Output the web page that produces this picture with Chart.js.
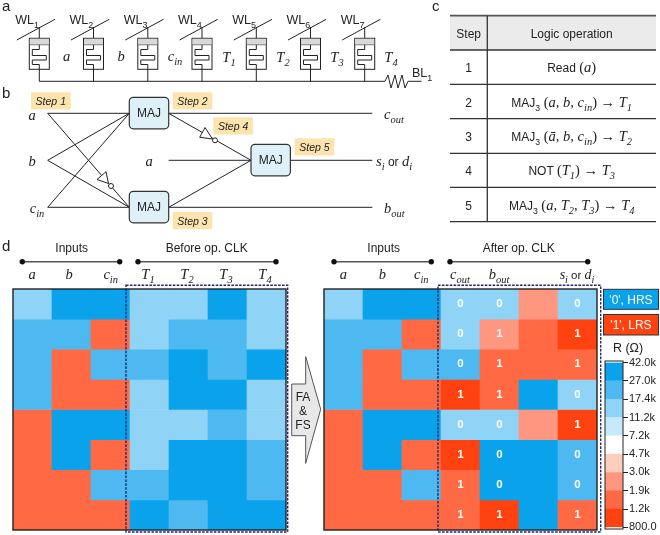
<!DOCTYPE html>
<html>
<head>
<meta charset="utf-8">
<title>Full adder / subtractor memristor logic</title>
<script src="https://cdn.jsdelivr.net/npm/chart.js@4"></script>
<style>
  html, body { margin: 0; padding: 0; background: #fff; }
  #page { position: relative; width: 660px; height: 535px; overflow: hidden; }
  canvas { position: absolute; }
  #heatBefore { left: 13px; top: 289px; }
  #heatAfter { left: 324px; top: 289px; }
  #colorbar { left: 605px; top: 355px; }
  svg { position: absolute; left: 0; top: 0; }
</style>
</head>
<body>
<div id="page">
  <canvas id="heatBefore" width="273" height="241"></canvas>
  <canvas id="heatAfter" width="273" height="241"></canvas>
  <canvas id="colorbar" width="55" height="180"></canvas>
  <svg id="overlay" width="660" height="535" xmlns="http://www.w3.org/2000/svg"></svg>
</div>
<script>
// Resistance (ohm), top row first
const inA = [14000, 21000, 21000, 21000, 1500, 1500, 1500, 1500];
const inB = [33000, 21000, 1500, 1500, 33000, 33000, 1500, 1500];
const inC = [33000, 1500, 21000, 1500, 33000, 1500, 21000, 1500];

const beforeT1 = [14000, 14000, 21000, 14000, 14000, 14000, 21000, 33000];
const beforeT2 = [14000, 21000, 33000, 33000, 14000, 33000, 33000, 21000];
const beforeT3 = [33000, 21000, 21000, 33000, 21000, 33000, 33000, 33000];
const beforeT4 = [14000, 14000, 33000, 14000, 14000, 21000, 21000, 33000];

const afterCout = [14000, 14000, 21000, 1000, 14000, 1000, 1500, 1500];
const afterBout = [14000, 2400, 1500, 1500, 14000, 33000, 33000, 1000];
const afterT3 = [2400, 1500, 1500, 33000, 2400, 33000, 33000, 33000];
const afterSum = [14000, 1000, 1500, 14000, 1000, 21000, 21000, 1500];

const bitsCout = ['0', '0', '0', '1', '0', '1', '1', '1'];
const bitsBout = ['0', '1', '1', '1', '0', '0', '0', '1'];
const bitsSum = ['0', '1', '1', '0', '1', '0', '0', '1'];

// Colour scale, bottom to top
const scaleTicks = ['800.0', '1.2k', '1.9k', '3.0k', '4.7k', '7.2k', '11.2k', '17.4k', '27.0k', '42.0k'];
const scaleEdges = [800, 1200, 1900, 3000, 4700, 7200, 11200, 17400, 27000, 42000];
const scaleColors = ['#ff4210', '#ff6a45', '#ff9680', '#fbcfbc', '#ffffff', '#c6e9fb', '#8fd3f6', '#4db9f0', '#0aa2ea'];

const rowIndex = [0, 1, 2, 3, 4, 5, 6, 7];

function colorFor(value) {
    for (let i = 0; i < scaleColors.length; i++) {
        if (value < scaleEdges[i + 1]) return scaleColors[i];
    }
    return scaleColors[scaleColors.length - 1];
}

const cellText = {
    id: 'cellText',
    afterDatasetsDraw(chart, args, opts) {
        if (!opts.bits) return;
        const ctx = chart.ctx;
        ctx.save();
        ctx.fillStyle = '#fff';
        ctx.font = 'bold 11.5px "Liberation Sans"';
        ctx.textAlign = 'center';
        ctx.textBaseline = 'middle';
        opts.bits.forEach((col, c) => {
            if (!col) return;
            col.forEach((bit, r) => {
                const bar = chart.getDatasetMeta(r).data[c];
                ctx.fillText(bit, bar.x, (bar.y + bar.base) / 2);
            });
        });
        ctx.restore();
    }
};

function drawHeatmap(id, columns, bits) {
    new Chart(document.getElementById(id), {
        type: 'bar',
        data: {
            labels: columns.map((c, i) => i),
            datasets: rowIndex.map(r => ({
                data: columns.map(() => [r, r + 1]),
                backgroundColor: columns.map(c => colorFor(c[r])),
                borderWidth: 0,
                categoryPercentage: 1,
                barPercentage: 1,
                grouped: false
            }))
        },
        options: {
            responsive: false,
            animation: false,
            layout: { padding: 0 },
            plugins: { legend: { display: false }, tooltip: { enabled: false }, cellText: { bits } },
            scales: {
                x: { display: false },
                y: { display: false, reverse: true, min: 0, max: 8 }
            }
        },
        plugins: [cellText]
    });
}

drawHeatmap('heatBefore', [inA, inB, inC, beforeT1, beforeT2, beforeT3, beforeT4]);
drawHeatmap('heatAfter', [inA, inB, inC, afterCout, afterBout, afterT3, afterSum],
    [null, null, null, bitsCout, bitsBout, null, bitsSum]);

new Chart(document.getElementById('colorbar'), {
    type: 'bar',
    data: {
        labels: ['R'],
        datasets: scaleColors.map((color, i) => ({
            data: [[i, i + 1]],
            backgroundColor: color,
            borderWidth: 0,
            categoryPercentage: 1,
            barPercentage: 1,
            grouped: false
        }))
    },
    options: {
        responsive: false,
        animation: false,
        layout: { padding: { top: 6, bottom: 6, left: 0, right: 0 } },
        plugins: { legend: { display: false }, tooltip: { enabled: false } },
        scales: {
            x: { display: false },
            y: {
                position: 'right',
                min: 0,
                max: 9,
                afterFit: scale => { scale.width = 37; },
                grid: { drawOnChartArea: false, color: '#222', tickLength: 5, tickWidth: 1 },
                border: { display: false },
                ticks: {
                    stepSize: 1,
                    padding: 1,
                    color: '#222',
                    autoSkip: false,
                    font: { family: '"Liberation Sans"', size: 11 },
                    callback: v => scaleTicks[v]
                }
            }
        }
    }
});

// Schematics and labels around the charts
const SANS = '"Liberation Sans"';
const SERIF = '"Liberation Serif"';
let svg = '';

function line(x1, y1, x2, y2, color = '#222', w = 1) {
    svg += `<line x1="${x1}" y1="${y1}" x2="${x2}" y2="${y2}" stroke="${color}" stroke-width="${w}"/>`;
}

function rect(x, y, w, h, fill, stroke = 'none', sw = 1, rx = 0, extra = '') {
    svg += `<rect x="${x}" y="${y}" width="${w}" height="${h}" fill="${fill}" stroke="${stroke}" stroke-width="${sw}" rx="${rx}" ${extra}/>`;
}

// parts: [text, kind]; s sans, r upright serif, m italic serif, ms and ss are subscripts
function label(x, y, parts, size = 12, anchor = 'middle', fill = '#222', sansSize = size) {
    if (typeof parts === 'string') parts = [[parts, 's']];
    let spans = '';
    let shift = 0;
    parts.forEach(([text, kind]) => {
        const isSub = kind === 'ms' || kind === 'ss';
        const drop = isSub ? size * 0.28 : 0;
        const family = kind[0] === 's' ? SANS : SERIF;
        const italic = kind[0] === 'm' ? 'font-style="italic"' : '';
        const base = kind[0] === 's' ? sansSize : size;
        const fs = isSub ? base * 0.72 : base;
        spans += `<tspan dy="${drop - shift}" font-family='${family}' font-size="${fs}" ${italic} xml:space="preserve">${text}</tspan>`;
        shift = drop;
    });
    svg += `<text x="${x}" y="${y}" text-anchor="${anchor}" fill="${fill}" xml:space="preserve">${spans}</text>`;
}

const mathSize = 14.5;
const cIn = [['c', 'm'], ['in', 'ms']];

// panel letters
label(2, 11, 'a', 15, 'start');
label(2, 98, 'b', 15, 'start');
label(2, 250.7, 'd', 15, 'start');
label(432, 10.5, 'c', 15, 'start');

// panel a
const cellX = [39.3, 93.5, 147.8, 202, 256.3, 310.5, 364.7];
const cellNames = ['1', '2', '3', '4', '5', '6', '7'];
cellX.forEach((cx, i) => {
    line(cx, 27, cx, 38.3);
    line(cx - 22.5, 40, cx + 15.7, 19.3);
    rect(cx - 10, 38.3, 20, 31, '#fff', '#222', 1);
    rect(cx - 9.5, 38.8, 19, 6, '#d9d9d9');
    line(cx - 10, 44.8, cx + 10, 44.8, '#555', 0.7);
    svg += `<path d="M${cx} 44.8V49.5H${cx - 7}V55.5H${cx + 7}V60H${cx - 7}V64.5H${cx}V69.3" fill="none" stroke="#222" stroke-width="1"/>`;
    line(cx, 69.3, cx, 81.3);
    label(cx - 24, 24, [['WL', 's'], [cellNames[i], 'ss']], 12.5, 'start');
});
line(39.3, 81.3, 385, 81.3);
svg += '<polyline points="385,81.3 388,75 391,88 395,75 398,88 402,75 405,88 408,81.3 421.5,81.3" fill="none" stroke="#222" stroke-width="1"/>';
label(412, 77, [['BL', 's'], ['1', 'ss']], 12.5, 'start');
label(66.7, 61, [['a', 'm']], mathSize);
label(121, 61, [['b', 'm']], mathSize);
label(175, 61, cIn, mathSize);
label(229, 62, [['T', 'm'], ['1', 'ms']], mathSize);
label(283, 62, [['T', 'm'], ['2', 'ms']], mathSize);
label(337, 62, [['T', 'm'], ['3', 'ms']], mathSize);
label(391, 62, [['T', 'm'], ['4', 'ms']], mathSize);

// panel b wires
line(47.7, 113.3, 129.3, 113.3);
line(47.7, 113.3, 129.3, 207.3);
line(47.7, 160.3, 129.3, 113.3);
line(47.7, 160.3, 129.3, 207.3);
line(47.7, 207.3, 129.3, 113.3);
line(47.7, 207.3, 129.3, 207.3);
line(168.7, 113.3, 372.3, 113.3);
line(168.7, 113.3, 251, 160.3);
line(168.7, 160.3, 251, 160.3);
line(290.3, 160.3, 372.3, 160.3);
line(168.7, 207.3, 372.3, 207.3);
line(168.7, 207.3, 251, 160.3);

// inverters
svg += '<polygon points="97,179.5 106,171.7 108.5,183.5" fill="#fff" stroke="#222" stroke-width="1"/><circle cx="111" cy="186" r="2.5" fill="#fff" stroke="#222"/>';
svg += '<polygon points="205,127.5 199.7,137.3 212.5,139" fill="#fff" stroke="#222" stroke-width="1"/><circle cx="215" cy="140.3" r="2.5" fill="#fff" stroke="#222"/>';

[[129.3, 97.3], [129.3, 191.3], [251, 144.3]].forEach(([x, y]) => {
    rect(x, y, 39.4, 31.5, '#def0f8', '#333', 1.2, 4);
    label(x + 19.7, y + 20, 'MAJ', 12);
});

[['Step 1', 31, 92.3], ['Step 2', 172.7, 92.3], ['Step 3', 172.7, 212], ['Step 4', 213.3, 117.3], ['Step 5', 294.7, 138.3]].forEach(([t, x, y]) => {
    rect(x, y, 39.6, 17.2, '#fde3ae');
    svg += `<text x="${x + 19.8}" y="${y + 12.5}" text-anchor="middle" font-family='${SANS}' font-style="italic" font-size="10.5" fill="#222">${t}</text>`;
});

label(32, 119.5, [['a', 'm']], mathSize);
label(32, 165.5, [['b', 'm']], mathSize);
label(37, 213, cIn, mathSize);
label(149, 165.5, [['a', 'm']], mathSize);
label(384, 119, [['c', 'm'], ['out', 'ms']], mathSize, 'start');
label(384, 213, [['b', 'm'], ['out', 'ms']], mathSize, 'start');
label(376, 166, [['s', 'm'], ['i', 'ms'], [' or ', 's'], ['d', 'm'], ['i', 'ms']], mathSize, 'start', '#222', 12);

// panel c table
rect(450, 16, 206, 34, '#ebebeb');
line(450, 15.7, 656, 15.7, '#555', 1.8);
[50, 84.3, 118.7, 153.3, 187.3, 221.7].forEach(y => line(450, y, 656, y, '#333', 1.3));
line(487.3, 15.7, 487.3, 221.7, '#333', 1.3);
label(468.7, 38, 'Step');
label(571.7, 38, 'Logic operation');

const tableSteps = ['1', '2', '3', '4', '5'];
const tableRows = [
    [['Read ', 's'], ['(', 'r'], ['a', 'm'], [')', 'r']],
    [['MAJ', 's'], ['3', 'ss'], [' (', 'r'], ['a, b, c', 'm'], ['in', 'ms'], [') → ', 'r'], ['T', 'm'], ['1', 'ms']],
    [['MAJ', 's'], ['3', 'ss'], [' (', 'r'], ['ā, b, c', 'm'], ['in', 'ms'], [') → ', 'r'], ['T', 'm'], ['2', 'ms']],
    [['NOT ', 's'], ['(', 'r'], ['T', 'm'], ['1', 'ms'], [') → ', 'r'], ['T', 'm'], ['3', 'ms']],
    [['MAJ', 's'], ['3', 'ss'], [' (', 'r'], ['a, T', 'm'], ['2', 'ms'], [', ', 'r'], ['T', 'm'], ['3', 'ms'], [') → ', 'r'], ['T', 'm'], ['4', 'ms']]
];
const tableY = [72, 106.5, 141, 175.3, 209.5];
tableSteps.forEach((s, i) => {
    label(468.7, tableY[i], s);
    label(571.7, tableY[i], tableRows[i], 14.5, 'middle', '#222', 12);
});

// panel d headers
function bracket(x1, x2, y) {
    line(x1, y, x2, y, '#555', 1.6);
    svg += `<circle cx="${x1}" cy="${y}" r="2.7" fill="#111"/><circle cx="${x2}" cy="${y}" r="2.7" fill="#111"/>`;
}
label(71.7, 252, 'Inputs');
label(206.7, 252, 'Before op. CLK');
bracket(22.3, 119.7, 261.7);
bracket(138, 276, 261.7);
label(383.7, 252, 'Inputs');
label(518.7, 252, 'After op. CLK');
bracket(334, 431.3, 261.7);
bracket(450, 587.7, 261.7);

const rowLabelY = 279;
label(32, rowLabelY, [['a', 'm']], mathSize);
label(69, rowLabelY, [['b', 'm']], mathSize);
label(110.7, rowLabelY, cIn, mathSize);
label(148, rowLabelY, [['T', 'm'], ['1', 'ms']], mathSize);
label(187, rowLabelY, [['T', 'm'], ['2', 'ms']], mathSize);
label(226, rowLabelY, [['T', 'm'], ['3', 'ms']], mathSize);
label(265, rowLabelY, [['T', 'm'], ['4', 'ms']], mathSize);
label(343.3, rowLabelY, [['a', 'm']], mathSize);
label(382.3, rowLabelY, [['b', 'm']], mathSize);
label(421.3, rowLabelY, cIn, mathSize);
label(460, rowLabelY, [['c', 'm'], ['out', 'ms']], mathSize);
label(499, rowLabelY, [['b', 'm'], ['out', 'ms']], mathSize);
label(577, rowLabelY, [['s', 'm'], ['i', 'ms'], [' or ', 's'], ['d', 'm'], ['i', 'ms']], 14, 'middle', '#222', 11.5);

// heatmap frames and dashed boxes
rect(13, 289, 273, 241, 'none', '#222', 1.4);
rect(324, 289, 273, 241, 'none', '#222', 1.4);
rect(126, 285.3, 161.7, 246.7, 'none', '#1c2a72', 1.4, 0, 'stroke-dasharray="2.6 1.3"');
rect(438, 285.3, 162.7, 246.7, 'none', '#1c2a72', 1.4, 0, 'stroke-dasharray="2.6 1.3"');

// arrow
svg += '<polygon points="291.7,384 305.7,384 305.7,356.7 320.7,409.3 305.7,463.3 305.7,435.7 291.7,435.7" fill="#e8e8e8" stroke="#555" stroke-width="1"/>';
label(303, 400.5, 'FA', 12);
label(303, 414.5, '&amp;', 12);
label(303, 428.5, 'FS', 12);

// legend boxes and colour bar frame
rect(603.5, 289.3, 55, 20, '#0aa2ea', '#333', 1);
label(631, 304, "'0', HRS", 12, 'middle', '#fff');
rect(603.5, 314.5, 55, 20.5, '#ff4210', '#333', 1);
label(631, 329, "'1', LRS", 12, 'middle', '#fff');
label(628, 352, [['R (Ω)', 's']], 12.5);
rect(605, 361, 18, 168, 'none', '#222', 1);

document.getElementById('overlay').innerHTML = svg;
</script>
</body>
</html>
